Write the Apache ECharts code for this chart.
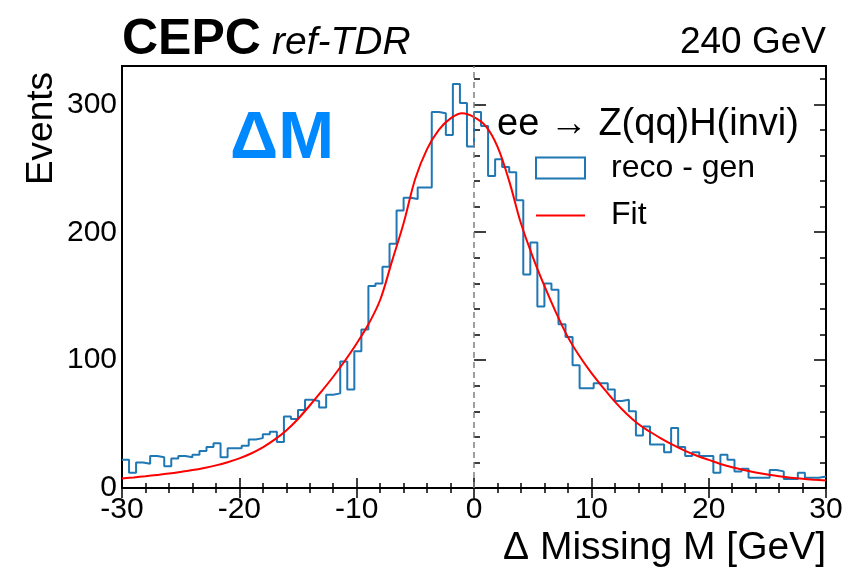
<!DOCTYPE html>
<html><head><meta charset="utf-8">
<script src="https://cdn.jsdelivr.net/npm/echarts@6/dist/echarts.min.js"></script>
<style>html,body{margin:0;padding:0;background:#fff}#c{width:856px;height:568px}</style>
</head><body><div id="c"></div>
<script>
// ---- data ----
const binLow = -30;
const binWidth = 0.6;
const counts = [
  22, 12, 20, 19, 25, 24, 17, 23, 25, 24,
  26, 29, 32, 35, 24, 31, 31, 33, 38, 39,
  42, 44, 36, 56, 54, 61, 69, 68, 63, 73,
  74, 99, 77, 107, 124, 158, 160, 173, 191, 217,
  227, 226, 235, 235, 294, 293, 276, 316, 301, 267,
  294, 283, 244, 257, 251, 247, 225, 167, 192, 142,
  160, 155, 128, 118, 96, 78, 78, 82, 82, 77,
  68, 69, 60, 41, 48, 34, 34, 28, 47, 32,
  25, 28, 25, 25, 12, 26, 22, 13, 15, 8,
  8, 8, 14, 13, 7, 7, 12, 8, 8, 9
];
const fitX = [-30,-29,-28,-27,-26,-25,-24,-23,-22,-21,-20,-19,-18,-17,-16,-15,-14,-13,-12,-11,-10,-9,-8,-7,-6,-5,-4,-3,-2,-1,0,1,2,3,4,5,6,7,8,9,10,11,12,13,14,15,16,17,18,19,20,21,22,23,24,25,26,27,28,29,30];
const fitY = [7.5,8.3,9.2,10.2,11.3,12.6,14,15.7,17.7,20.2,23.2,27,31.8,37.8,45,54,64.5,75.5,87,99.5,113,128,147,177,207,242,265,280,289,293,290,283,267,240,207,181,158,137,118,103,90,78.5,67.5,58,50,44,38.5,33.5,29,25.2,22,18.8,16.2,14,12.1,10.5,9.2,8.1,7.2,6.5,5.9];
const xTickValues = [-30, -20, -10, 0, 10, 20, 30];
const yTickValues = [0, 100, 200, 300];
const histName = 'reco - gen';
const fitName = 'Fit';

// ---- build ----
const FONT = '"Liberation Sans", Arial, Helvetica, sans-serif';
const histPts = counts.map((v, i) => [binLow + i * binWidth, v]);
histPts.push([binLow + counts.length * binWidth, counts[counts.length - 1]]);
const fitPts = fitX.map((x, i) => [x, fitY[i]]);

const tickStyle = {color: '#000', width: 1.5};
function xAx(pos, labels) {
  return {
    type: 'value', min: xTickValues[0], max: xTickValues[xTickValues.length - 1], interval: 10,
    position: pos, axisLine: {show: false},
    axisTick: {show: true, inside: true, length: 10, lineStyle: tickStyle},
    minorTick: {show: true, splitNumber: 5, length: 5, lineStyle: tickStyle},
    splitLine: {show: false}, minorSplitLine: {show: false},
    axisLabel: {show: labels, margin: 7, fontSize: 30, color: '#000', fontFamily: FONT}
  };
}
function yAx(pos, interval, len, labels) {
  return {
    type: 'value', min: 0, max: 330, interval: interval, position: pos,
    axisLine: {show: false},
    axisTick: {show: true, inside: true, length: len, lineStyle: tickStyle},
    splitLine: {show: false},
    axisLabel: {show: labels, showMaxLabel: false, margin: 5, fontSize: 30, color: '#000', fontFamily: FONT,
      formatter: v => (yTickValues.indexOf(v) >= 0 ? String(v) : '')}
  };
}

const chart = echarts.init(document.getElementById('c'), null, {renderer: 'canvas'});
chart.setOption({
  animation: false,
  backgroundColor: '#fff',
  grid: {left: 122, right: 30, top: 66, bottom: 80, show: true, borderColor: '#000', borderWidth: 2, backgroundColor: 'rgba(0,0,0,0)'},
  xAxis: [xAx('bottom', true), xAx('top', false)],
  yAxis: [yAx('left', 100, 12, true), yAx('left', 20, 6, false), yAx('right', 100, 12, false), yAx('right', 20, 6, false)],
  legend: {
    orient: 'vertical', left: 530, top: 147, itemWidth: 49, itemHeight: 21, itemGap: 15.5,
    textStyle: {fontSize: 32, lineHeight: 32, color: '#000', fontFamily: FONT, padding: [0, 0, 0, 21]},
    data: [
      {name: histName, icon: 'rect', itemStyle: {color: 'rgba(0,0,0,0)', borderColor: '#1f77b4', borderWidth: 2}},
      {name: fitName, icon: 'path://M0,0L49,0L49,2L0,2Z', itemStyle: {color: '#ff0000', borderWidth: 0}}
    ]
  },
  series: [
    {
      name: histName, type: 'line', step: 'end', data: histPts, symbol: 'none', showSymbol: false,
      xAxisIndex: 0, yAxisIndex: 0,
      lineStyle: {color: '#1f77b4', width: 2}, itemStyle: {color: '#1f77b4'},
      markLine: {silent: true, symbol: ['none', 'none'], label: {show: false},
        lineStyle: {color: '#808080', width: 1.5, type: [6, 4]}, data: [{xAxis: 0}]},
      z: 2
    },
    {
      name: fitName, type: 'line', data: fitPts, smooth: 0.35, symbol: 'none', showSymbol: false,
      xAxisIndex: 0, yAxisIndex: 0,
      lineStyle: {color: '#ff0000', width: 2}, itemStyle: {color: '#ff0000'}, z: 3
    }
  ],
  graphic: [
    {type: 'text', x: 122, y: 40.5, style: {text: 'CEPC', font: 'bold 50px ' + FONT, fill: '#000', align: 'left', verticalAlign: 'middle'}},
    {type: 'text', x: 272, y: 43.5, style: {text: 'ref-TDR', font: 'italic 39px ' + FONT, fill: '#000', align: 'left', verticalAlign: 'middle'}},
    {type: 'text', x: 826, y: 43, style: {text: '240 GeV', font: '37px ' + FONT, fill: '#000', align: 'right', verticalAlign: 'middle'}},
    {type: 'text', x: 230, y: 140, style: {text: 'ΔM', font: 'bold 67px ' + FONT, fill: '#0088ff', align: 'left', verticalAlign: 'middle'}},
    {type: 'text', x: 497, y: 125, style: {text: 'ee → Z(qq)H(invi)', font: '38px ' + FONT, fill: '#000', align: 'left', verticalAlign: 'middle'}},
    {type: 'text', x: 42, y: 72, rotation: Math.PI / 2, style: {text: 'Events', font: '37px ' + FONT, fill: '#000', align: 'right', verticalAlign: 'middle'}},
    {type: 'text', x: 826, y: 548, style: {text: 'Δ Missing M [GeV]', font: '39px ' + FONT, fill: '#000', align: 'right', verticalAlign: 'middle'}}
  ]
});
</script></body></html>
